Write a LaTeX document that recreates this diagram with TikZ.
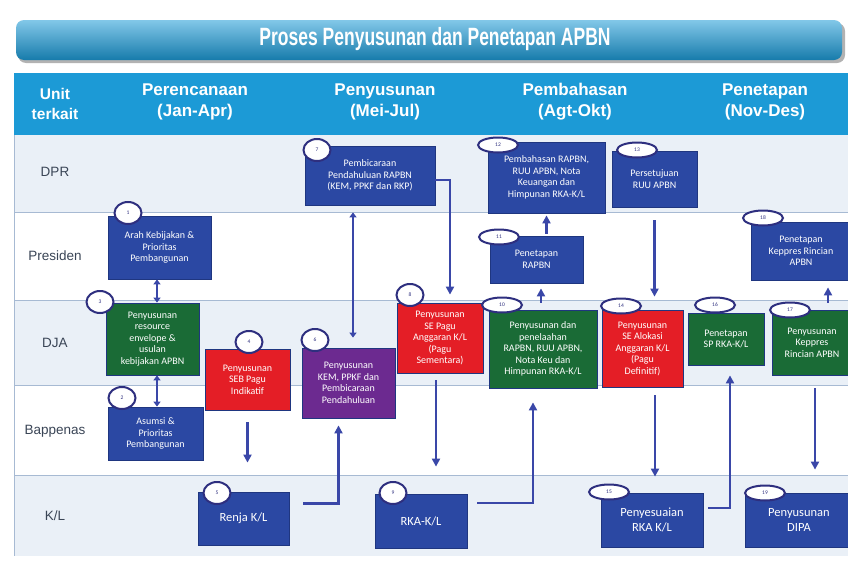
\documentclass[tikz,border=0pt]{standalone}
\usepackage{fontspec}
\setmainfont{Carlito}
\newfontfamily\lanefont{Liberation Sans}
\newfontfamily\titlefont[FakeStretch=0.7]{Liberation Sans}
\usetikzlibrary{arrows.meta,positioning,shapes.geometric}
\definecolor{kotakbiru}{HTML}{2B48A3}
\definecolor{kotakhijau}{HTML}{1A6B36}
\definecolor{kotakmerah}{HTML}{E41E26}
\definecolor{kotakungu}{HTML}{6C2A90}
\definecolor{panah}{HTML}{3A47A8}
\definecolor{navy}{HTML}{2E2F7F}
\definecolor{lanebg}{HTML}{EAF0F7}
\definecolor{garisgrid}{HTML}{A7BAD3}
\definecolor{headbiru}{HTML}{1C9AD6}
\definecolor{abu}{HTML}{3A4556}
\definecolor{garis}{HTML}{1F3680}
\tikzset{
  flow/.style={draw=garis,line width=0.8pt,align=center,text=white,inner sep=2pt,
    font=\fontsize{10}{11.5}\selectfont},
  bigtext/.style={font=\fontsize{12.5}{14.5}\selectfont},
  bluebox/.style={flow,fill=kotakbiru},
  greenbox/.style={flow,fill=kotakhijau},
  redbox/.style={flow,fill=kotakmerah},
  purplebox/.style={flow,fill=kotakungu},
  num/.style={ellipse,draw=navy,line width=2pt,fill=white,inner sep=0pt,
    minimum width=27pt,minimum height=22pt,text=navy,font=\fontsize{5.5}{5.5}\selectfont},
  wide/.style={minimum width=40pt,minimum height=15pt},
  arrow/.style={-{Triangle[length=8pt,width=8pt]},line width=2.2pt,draw=panah},
  twoway/.style={{Triangle[length=5pt,width=7pt]}-{Triangle[length=5pt,width=7pt]},
    line width=2.8pt,draw=panah},
  lane/.style={font=\lanefont\fontsize{13.5}{13.5}\selectfont,text=abu},
  head/.style={font=\lanefont\bfseries\fontsize{17}{21}\selectfont,text=white,align=center}
}
\begin{document}
\begin{tikzpicture}[x=1pt,y=-1pt]
\useasboundingbox (0,0) rectangle (848,562);
\fill[white] (0,0) rectangle (848,562);
\fill[black!30,rounded corners=8pt] (18,23) rectangle (845,63);
\shade[top color=headbiru!55!white,bottom color=headbiru!80!black,rounded corners=8pt] (16,20) rectangle (842,60);
\node[font=\titlefont\bfseries\fontsize{25}{25}\selectfont,text=white] (judul) at (435,39) {Proses Penyusunan dan Penetapan APBN};
\fill[headbiru] (14,73) rectangle (848,135);
\fill[lanebg] (14,135) rectangle (848,212);
\fill[lanebg] (14,300) rectangle (848,385);
\fill[lanebg] (14,475) rectangle (848,556);
\foreach \y in {212,300,385,475} \draw[garisgrid,line width=0.8pt] (14,\y) -- (848,\y);
\draw[garisgrid,line width=0.8pt] (14,135) -- (14,556);
\node[head,font=\lanefont\bfseries\fontsize{15.5}{20}\selectfont] (unit) at (55,104) {Unit\\terkait};
\node[head] (rencana) at (195,102) {Perencanaan\\(Jan-Apr)};
\node[head] (susun) at (385,102) {Penyusunan\\(Mei-Jul)};
\node[head] (bahas) at (575,102) {Pembahasan\\(Agt-Okt)};
\node[head] (tetap) at (765,102) {Penetapan\\(Nov-Des)};
\foreach \lbl/\y/\nm in {DPR/172/dpr,Presiden/256/pres,DJA/343/dja,Bappenas/431/bap,{K/L}/516/kl}
  \node[lane] (\nm) at (55,\y) {\lbl};
\node[bluebox,minimum width=103pt,minimum height=63pt] (b1) at (159.5,247.5) {Arah Kebijakan \&\\Prioritas\\Pembangunan};
\node[bluebox,minimum width=95pt,minimum height=53pt] (b2) at (155.5,433.5) {Asumsi \&\\Prioritas\\Pembangunan};
\node[greenbox,minimum width=93pt,minimum height=72pt] (b3) at (152.5,339) {Penyusunan\\resource\\envelope \&\\usulan\\kebijakan APBN};
\node[redbox,minimum width=85pt,minimum height=61pt] (b4) at (247.5,379.5) {Penyusunan\\SEB Pagu\\Indikatif};
\node[bluebox,bigtext,minimum width=91pt,minimum height=53pt] (b5) at (243.5,518.5) {Renja K/L};
\node[purplebox,minimum width=93pt,minimum height=70pt] (b6) at (348.5,383) {Penyusunan\\KEM, PPKF dan\\Pembicaraan\\Pendahuluan};
\node[bluebox,minimum width=130pt,minimum height=59pt] (b7) at (370,175.5) {Pembicaraan\\Pendahuluan RAPBN\\(KEM, PPKF dan RKP)};
\node[redbox,minimum width=86pt,minimum height=70pt] (b8) at (440,338) {Penyusunan\\SE Pagu\\Anggaran K/L\\(Pagu\\Sementara)};
\node[bluebox,bigtext,minimum width=92pt,minimum height=54pt] (b9) at (421,521) {RKA-K/L};
\node[greenbox,minimum width=108pt,minimum height=78pt] (b10) at (543,349) {Penyusunan dan\\penelaahan\\RAPBN, RUU APBN,\\Nota Keu dan\\Himpunan RKA-K/L};
\node[bluebox,minimum width=93pt,minimum height=47pt] (b11) at (536.5,259.5) {Penetapan\\RAPBN};
\node[bluebox,minimum width=117pt,minimum height=71pt] (b12) at (546.5,177.5) {Pembahasan RAPBN,\\RUU APBN, Nota\\Keuangan dan\\Himpunan RKA-K/L};
\node[bluebox,minimum width=85pt,minimum height=56pt] (b13) at (654.5,179) {Persetujuan\\RUU APBN};
\node[redbox,minimum width=81pt,minimum height=77pt] (b14) at (642.5,348.5) {Penyusunan\\SE Alokasi\\Anggaran K/L\\(Pagu\\Definitif)};
\node[bluebox,bigtext,minimum width=102pt,minimum height=54pt] (b15) at (652,520) {Penyesuaian\\RKA K/L};
\node[greenbox,minimum width=76pt,minimum height=52pt] (b16) at (726,339) {Penetapan\\SP RKA-K/L};
\node[greenbox,minimum width=80pt,minimum height=65pt] (b17) at (812,342.5) {Penyusunan\\Keppres\\Rincian APBN};
\node[bluebox,minimum width=100pt,minimum height=58pt] (b18) at (801,251) {Penetapan\\Keppres Rincian\\APBN};
\node[bluebox,bigtext,minimum width=108pt,minimum height=54pt] (b19) at (799,520) {Penyusunan\\DIPA};
\node[num] (n1) at (128,213) {1};
\node[num] (n2) at (122,398) {2};
\node[num] (n3) at (100,302) {3};
\node[num] (n4) at (249,342) {4};
\node[num] (n5) at (217,493) {5};
\node[num] (n6) at (315,340) {6};
\node[num] (n7) at (317,150) {7};
\node[num] (n8) at (410,295) {8};
\node[num] (n9) at (393,493) {9};
\node[num,wide] (n10) at (502,305) {10};
\node[num,wide] (n11) at (499,237) {11};
\node[num,wide] (n12) at (498,145) {12};
\node[num,wide] (n13) at (637,150) {13};
\node[num,wide] (n14) at (621,306) {14};
\node[num,wide] (n15) at (609,492) {15};
\node[num,wide] (n16) at (715,305) {16};
\node[num,wide] (n17) at (790,310) {17};
\node[num,wide] (n18) at (763,218) {18};
\node[num,wide] (n19) at (765,493) {19};
\draw[twoway] ([xshift=-2.5pt]b1.south) -- ([xshift=-2.5pt]b1.south |- b3.north);
\draw[twoway] ([xshift=4.5pt]b3.south) -- ([xshift=4.5pt]b3.south |- b2.north);
\draw[arrow,shorten <=12pt,shorten >=29pt] (b4.south) -- (b4.south |- b5.north);
\draw[arrow,shorten <=14pt,shorten >=7pt] ([yshift=15pt]b5.east) -| ([xshift=-10pt]b6.south);
\draw[twoway,line width=2pt,shorten <=10pt,shorten >=7pt] ([xshift=4.5pt]b6.north) -- ([xshift=4.5pt]b6.north |- b7.south);
\draw[arrow,shorten >=8pt] ([yshift=-4.5pt]b7.east) -| ([xshift=10pt]b8.north);
\draw[arrow,shorten <=7pt,shorten >=27pt] ([xshift=-4pt]b8.south) -- ([xshift=-4pt]b8.south |- b9.north);
\draw[arrow,shorten <=10pt,shorten >=14pt] ([yshift=18pt]b9.east) -| ([xshift=-10pt]b10.south);
\draw[arrow,shorten <=7pt,shorten >=5pt] ([xshift=-2pt]b10.north) -- ([xshift=-2pt]b10.north |- b11.south);
\draw[arrow,shorten <=2pt,shorten >=2pt] ([xshift=10pt]b11.north) -- ([xshift=10pt]b11.north |- b12.south);
\draw[arrow,shorten <=13pt,shorten >=13pt] (b13.south) -- (b13.south |- b14.north);
\draw[arrow,shorten <=8pt,shorten >=16pt] ([xshift=12.5pt]b14.south) -- ([xshift=12.5pt]b14.south |- b15.north);
\draw[arrow,shorten <=5pt,shorten >=10pt] ([yshift=12pt]b15.east) -| ([xshift=4pt]b16.south);
\draw[arrow,shorten <=7pt,shorten >=7pt] ([xshift=16pt]b17.north) -- ([xshift=16pt]b17.north |- b18.south);
\draw[arrow,shorten <=13pt,shorten >=23pt] ([xshift=3pt]b17.south) -- ([xshift=3pt]b17.south |- b19.north);
\end{tikzpicture}
\end{document}
